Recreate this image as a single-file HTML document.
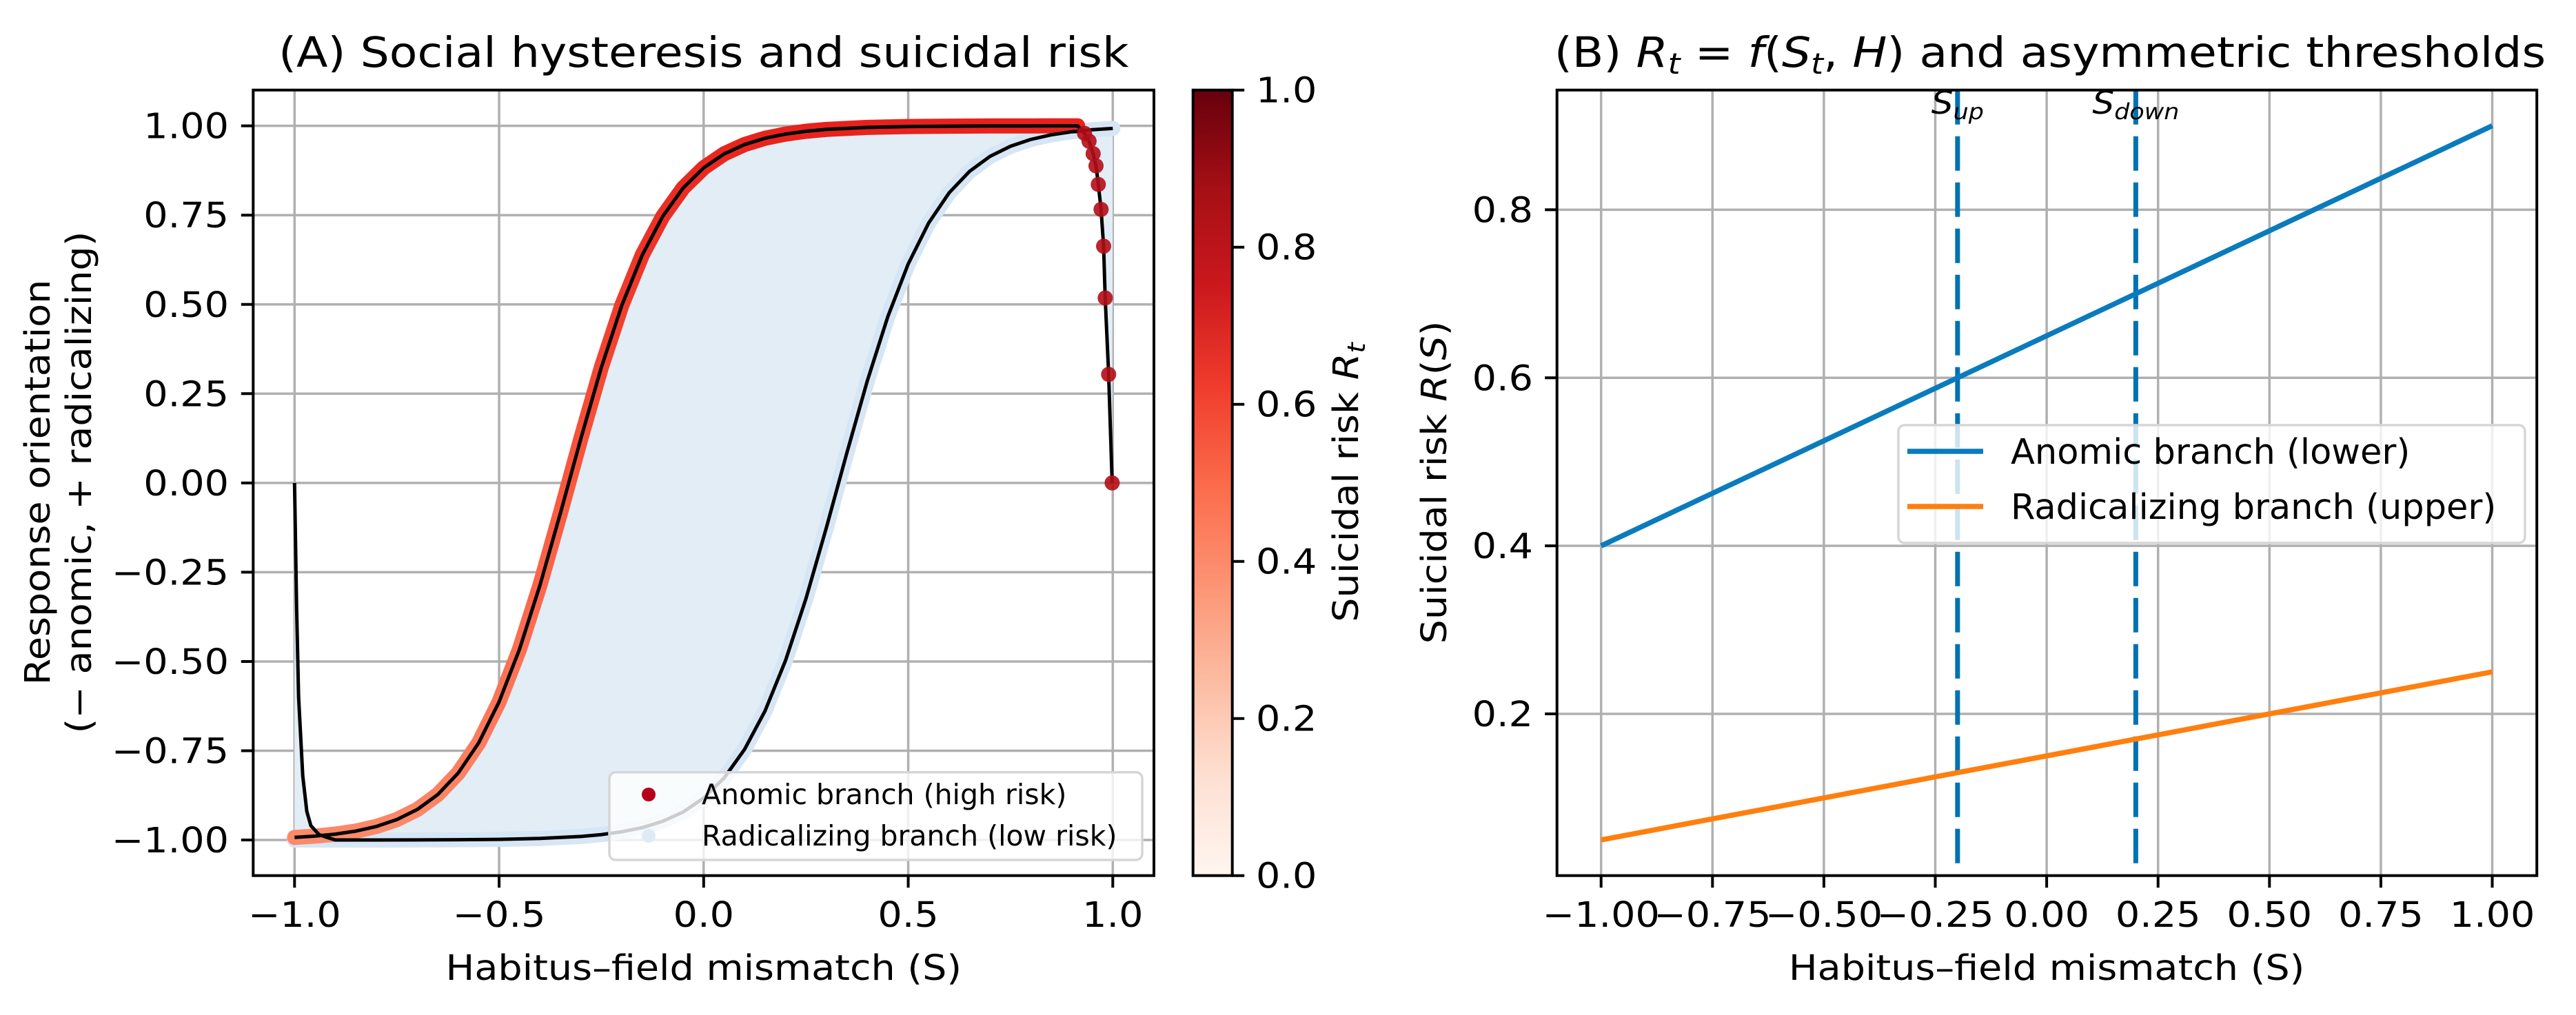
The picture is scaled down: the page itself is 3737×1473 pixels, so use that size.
<!DOCTYPE html>
<html><head><meta charset="utf-8"><style>
html,body{margin:0;padding:0;background:#fff;}
svg{display:block;font-family:"DejaVu Sans","Liberation Sans",sans-serif;}
</style></head><body>
<svg id="fig" width="3737" height="1473" viewBox="0 0 3737 1473" xmlns="http://www.w3.org/2000/svg">
<defs>
<linearGradient id="cmap" x1="0" y1="1" x2="0" y2="0">
<stop offset="0" stop-color="#fff5f0"/><stop offset="0.125" stop-color="#fee0d2"/><stop offset="0.25" stop-color="#fcbba1"/><stop offset="0.375" stop-color="#fc9272"/><stop offset="0.5" stop-color="#fb6a4a"/><stop offset="0.625" stop-color="#ef3b2c"/><stop offset="0.75" stop-color="#cb181d"/><stop offset="0.875" stop-color="#a50f15"/><stop offset="1" stop-color="#67000d"/>
</linearGradient>
<linearGradient id="bandGrad" gradientUnits="userSpaceOnUse" x1="0" y1="1219" x2="0" y2="182">
<stop offset="0" stop-color="#fc8a6a"/><stop offset="0.5" stop-color="#f9583e"/><stop offset="1" stop-color="#e8211c"/>
</linearGradient>
<clipPath id="clipA"><rect x="367" y="130" width="1307" height="1141"/></clipPath>
<clipPath id="clipB"><rect x="2259" y="130" width="1421" height="1141"/></clipPath>
</defs>
</svg>
<script>
// ---------- Panel A data ----------
const upperS = [-1,-0.95,-0.9,-0.85,-0.8,-0.75,-0.7,-0.65,-0.6,-0.55,-0.5,-0.45,-0.4,-0.35,-0.3,-0.25,-0.2,-0.15,-0.1,-0.05,0,0.05,0.1,0.15,0.2,0.25,0.3,0.4,0.5,0.6,0.7,0.8,0.9,0.914];
const upperR = [-0.9928,-0.9891,-0.9835,-0.975,-0.962,-0.9427,-0.9146,-0.8728,-0.8125,-0.728,-0.6131,-0.4653,-0.2858,-0.0838,0.1253,0.324,0.4975,0.6387,0.7463,0.8262,0.8824,0.9215,0.9476,0.9653,0.9769,0.9848,0.99,0.9957,0.9981,0.9992,0.9997,0.9999,1.0,1.0];
const dropS = [0.931,0.942,0.952,0.959,0.9646,0.9714,0.9776,0.9815,0.9899,0.9985];
const dropR = [0.979,0.957,0.922,0.888,0.836,0.766,0.663,0.518,0.304,0.0];
const lowerS = [-1,-0.95,-0.9,-0.8,-0.7,-0.6,-0.5,-0.4,-0.3,-0.25,-0.2,-0.15,-0.1,-0.05,0,0.05,0.1,0.15,0.2,0.25,0.3,0.35,0.4,0.45,0.5,0.55,0.6,0.65,0.7,0.75,0.8,0.85,0.9,0.95,1.0];
const lowerR = [-1.0,-1.0,-0.9999,-0.9999,-0.9997,-0.9992,-0.9981,-0.9957,-0.99,-0.9848,-0.9769,-0.9653,-0.9476,-0.9215,-0.8824,-0.8262,-0.7463,-0.6387,-0.4975,-0.324,-0.1253,0.0838,0.2858,0.4653,0.6131,0.728,0.8125,0.8728,0.9146,0.9427,0.962,0.975,0.9835,0.9891,0.9928];
const riseS = [-1,-0.995,-0.99,-0.98,-0.97,-0.96,-0.94,-0.92];
const riseR = [0.0,-0.35,-0.6,-0.82,-0.92,-0.96,-0.985,-0.993];
const xTicksA = [-1.0,-0.5,0.0,0.5,1.0];
const xTickLabelsA = ["−1.0","−0.5","0.0","0.5","1.0"];
const yTicksA = [-1,-0.75,-0.5,-0.25,0,0.25,0.5,0.75,1];
const yTickLabelsA = ["−1.00","−0.75","−0.50","−0.25","0.00","0.25","0.50","0.75","1.00"];
const cbTicks = [0,0.2,0.4,0.6,0.8,1.0];
const cbTickLabels = ["0.0","0.2","0.4","0.6","0.8","1.0"];
// ---------- Panel B data ----------
const bS = [-1,1];
const anomicR = [0.4,0.9];
const radicalR = [0.05,0.25];
const thresholds = [-0.2,0.2];
const thresholdNames = ["up","down"];
const xTicksB = [-1,-0.75,-0.5,-0.25,0,0.25,0.5,0.75,1];
const xTickLabelsB = ["−1.00","−0.75","−0.50","−0.25","0.00","0.25","0.50","0.75","1.00"];
const yTicksB = [0.2,0.4,0.6,0.8];
const yTickLabelsB = ["0.2","0.4","0.6","0.8"];

const NS="http://www.w3.org/2000/svg";
const svg=document.getElementById('fig');
let SX=1.09;
function mk(tag,attrs,parent){const e=document.createElementNS(NS,tag);for(const k in attrs)e.setAttribute(k,attrs[k]);(parent||svg).appendChild(e);return e;}
function stext(x,y,rot,attrs,parent){const a=Object.assign({},attrs);a.x=0;a.y=0;a.transform='translate('+x+','+y+')'+(rot?' rotate('+rot+')':'')+' scale('+SX+',1)';return mk('text',a,parent);}
function txt(s,x,y,attrs,parent,rot){const e=stext(x,y,rot,attrs,parent);e.textContent=s;return e;}

const xA=s=>1020.8+593.5*s, yA=r=>700.85-518.2*r;
const yCB=v=>1270.7-1140*v;
const xB=s=>2969.1+646.4*s, yB=r=>1270.7-(r-0.0075)*1219.3;
function pts(S,R,fx,fy){return S.map((s,i)=>fx(s).toFixed(1)+','+fy(R[i]).toFixed(1)).join(' ');}

// ===== Panel A =====
const gA=mk('g',{});


xTicksA.forEach(t=>{const l=mk('line',{x1:xA(t),x2:xA(t),y1:130.7,y2:1270.7,stroke:'#b0b0b0','stroke-width':3.5},gA);

});
yTicksA.forEach(t=>{const l=mk('line',{x1:367.3,x2:1674,y1:yA(t),y2:yA(t),stroke:'#b0b0b0','stroke-width':3.5},gA);

});
const plotA=mk('g',{'clip-path':'url(#clipA)'},gA);
const b1S=upperS.concat(dropS), b1R=upperR.concat(dropR);
const b2S=riseS.concat(lowerS.filter(s=>s>=-0.9)), b2R=riseR.concat(lowerR.filter((r,i)=>lowerS[i]>=-0.9));
const fillPts=pts(b1S,b1R,xA,yA)+' '+pts(b2S.slice().reverse(),b2R.slice().reverse(),xA,yA);
const fill=mk('polygon',{points:fillPts,fill:'#e2edf6',stroke:'none'},plotA);


const lowBand=mk('polyline',{points:pts(lowerS,lowerR,xA,yA),fill:'none',stroke:'#d6e6f4','stroke-width':22,'stroke-linecap':'round','stroke-linejoin':'round'},plotA);


const upBand=mk('polyline',{points:pts(upperS,upperR,xA,yA),fill:'none',stroke:'url(#bandGrad)','stroke-width':22,'stroke-linecap':'round','stroke-linejoin':'round'},plotA);


const bl1=mk('polyline',{points:pts(b1S,b1R,xA,yA),fill:'none',stroke:'#000','stroke-width':5,'stroke-linejoin':'round'},plotA);


const bl2=mk('polyline',{points:pts(b2S,b2R,xA,yA),fill:'none',stroke:'#000','stroke-width':5,'stroke-linejoin':'round'},plotA);


dropS.forEach((s,i)=>{const c=mk('circle',{cx:xA(s),cy:yA(dropR[i]),r:11,fill:'#b30d17',opacity:0.9},plotA);

});
const spA=mk('rect',{x:367.3,y:130.7,width:1306.7,height:1140,fill:'none',stroke:'#000','stroke-width':4},gA);


xTicksA.forEach((t,i)=>{const l=mk('line',{x1:xA(t),x2:xA(t),y1:1270.7,y2:1288.2,stroke:'#000','stroke-width':4},gA);


const tx=txt(xTickLabelsA[i],xA(t),1345,{'font-size':51,'text-anchor':'middle'},gA);

});
yTicksA.forEach((t,i)=>{const l=mk('line',{x1:349.8,x2:367.3,y1:yA(t),y2:yA(t),stroke:'#000','stroke-width':4},gA);


const tx=txt(yTickLabelsA[i],332,yA(t)+18,{'font-size':51,'text-anchor':'end'},gA);

});
const tA=txt('(A) Social hysteresis and suicidal risk',1020.8,97,{'font-size':61,'text-anchor':'middle'},gA);


const xlA=txt('Habitus–field mismatch (S)',1020.8,1422,{'font-size':51,'text-anchor':'middle'},gA);


const ylA1=txt('Response orientation',72,700,{'font-size':51,'text-anchor':'middle'},gA,-90);


const ylA2=txt('(− anomic, + radicalizing)',132,700,{'font-size':51,'text-anchor':'middle'},gA,-90);


SX=1.0;
const lgA=mk('g',{},gA);


mk('rect',{x:884,y:1120.7,width:773,height:127.3,rx:9,fill:'#fff','fill-opacity':0.8,stroke:'#d6d6d6','stroke-width':3.5},lgA);
const ld1=mk('circle',{cx:941,cy:1153,r:10,fill:'#b40018'},lgA);


const lt1=txt('Anomic branch (high risk)',1018,1167,{'font-size':41},lgA);


const ld2=mk('circle',{cx:941,cy:1213,r:10,fill:'#deebf7'},lgA);


const lt2=txt('Radicalizing branch (low risk)',1018,1227,{'font-size':41},lgA);


SX=1.09;
const cb=mk('g',{});


mk('rect',{x:1730.7,y:130.7,width:57,height:1140,fill:'url(#cmap)',stroke:'#000','stroke-width':4},cb);
cbTicks.forEach((t,i)=>{const l=mk('line',{x1:1787.7,x2:1805.2,y1:yCB(t),y2:yCB(t),stroke:'#000','stroke-width':4},cb);


const tx=txt(cbTickLabels[i],1822,yCB(t)+18,{'font-size':51},cb);

});
const cbl=stext(1970,700,-90,{'font-size':51,'text-anchor':'middle'},cb);


cbl.innerHTML='Suicidal risk <tspan font-style="italic">R</tspan><tspan font-style="italic" font-size="36" dy="10">t</tspan>';

// ===== Panel B =====
const gB=mk('g',{});


xTicksB.forEach(t=>{const l=mk('line',{x1:xB(t),x2:xB(t),y1:130.7,y2:1270.7,stroke:'#b0b0b0','stroke-width':3.5},gB);

});
yTicksB.forEach(t=>{const l=mk('line',{x1:2258.7,x2:3680,y1:yB(t),y2:yB(t),stroke:'#b0b0b0','stroke-width':3.5},gB);

});
const plotB=mk('g',{'clip-path':'url(#clipB)'},gB);
thresholds.forEach((t,i)=>{const l=mk('line',{x1:xB(t),x2:xB(t),y1:130.7,y2:1270.7,stroke:'#0072b2','stroke-width':7,'stroke-dasharray':'50 17'},plotB);

});
const la=mk('polyline',{points:pts(bS,anomicR,xB,yB),fill:'none',stroke:'#0a7bbd','stroke-width':7.5},plotB);


const lr=mk('polyline',{points:pts(bS,radicalR,xB,yB),fill:'none',stroke:'#ff7f0e','stroke-width':7.5},plotB);


thresholds.forEach((t,i)=>{const tx=stext(xB(t),165,0,{'font-size':46,'text-anchor':'middle','font-style':'italic'},gB);


tx.innerHTML='S<tspan font-size="32" dy="8">'+thresholdNames[i]+'</tspan>';});
const spB=mk('rect',{x:2258.7,y:130.7,width:1421.5,height:1140,fill:'none',stroke:'#000','stroke-width':4},gB);


xTicksB.forEach((t,i)=>{const l=mk('line',{x1:xB(t),x2:xB(t),y1:1270.7,y2:1288.2,stroke:'#000','stroke-width':4},gB);


const tx=txt(xTickLabelsB[i],xB(t),1345,{'font-size':51,'text-anchor':'middle'},gB);

});
yTicksB.forEach((t,i)=>{const l=mk('line',{x1:2241.2,x2:2258.7,y1:yB(t),y2:yB(t),stroke:'#000','stroke-width':4},gB);


const tx=txt(yTickLabelsB[i],2224,yB(t)+18,{'font-size':51,'text-anchor':'end'},gB);

});
const tB=stext(2974,97,0,{'font-size':61,'text-anchor':'middle'},gB);


tB.innerHTML='(B) <tspan font-style="italic">R</tspan><tspan font-style="italic" font-size="42" dy="10">t</tspan><tspan dy="-10"> = </tspan><tspan font-style="italic">f</tspan>(<tspan font-style="italic">S</tspan><tspan font-style="italic" font-size="42" dy="10">t</tspan><tspan dy="-10">, </tspan><tspan font-style="italic">H</tspan>) and asymmetric thresholds';
const xlB=txt('Habitus–field mismatch (S)',2969.1,1422,{'font-size':51,'text-anchor':'middle'},gB);


const ylB=stext(2098,700,-90,{'font-size':51,'text-anchor':'middle'},gB);


ylB.innerHTML='Suicidal risk <tspan font-style="italic">R</tspan>(<tspan font-style="italic">S</tspan>)';
SX=1.0;
const lgB=mk('g',{},gB);


mk('rect',{x:2754,y:617,width:909,height:171,rx:9,fill:'#fff','fill-opacity':0.8,stroke:'#d6d6d6','stroke-width':3.5},lgB);
const lm1=mk('line',{x1:2767,x2:2877,y1:655,y2:655,stroke:'#0a7bbd','stroke-width':7.5},lgB);


const le1=txt('Anomic branch (lower)',2917,673,{'font-size':51},lgB);


const lm2=mk('line',{x1:2767,x2:2877,y1:735,y2:735,stroke:'#ff7f0e','stroke-width':7.5},lgB);


const le2=txt('Radicalizing branch (upper)',2917,753,{'font-size':51},lgB);


</script>
</body></html>
